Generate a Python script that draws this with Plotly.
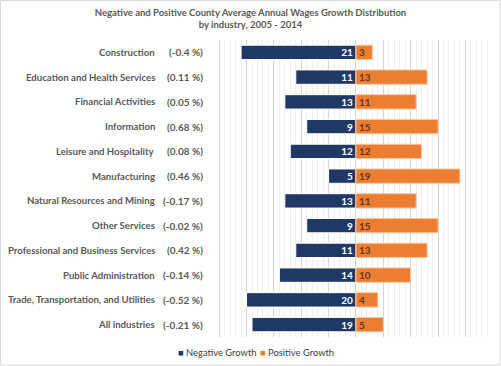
import plotly.graph_objects as go

industries = ["Construction", "Education and Health Services", "Financial Activities",
              "Information", "Leisure and Hospitality", "Manufacturing",
              "Natural Resources and Mining", "Other Services",
              "Professional and Business Services", "Public Administration",
              "Trade, Transportation, and Utilities", "All industries"]
growth_pct = ["(-0.4 %)", "(0.11 %)", "(0.05 %)", "(0.68 %)", "(0.08 %)", "(0.46 %)",
              "(-0.17 %)", "(-0.02 %)", "(0.42 %)", "(-0.14 %)", "(-0.52 %)", "(-0.21 %)"]
negative = [21, 11, 13, 9, 12, 5, 13, 9, 11, 14, 20, 19]
positive = [3, 13, 11, 15, 12, 19, 11, 15, 13, 10, 4, 5]
series_names = ["Negative Growth", "Positive Growth"]
series_colors = ["#203864", "#ED7D31"]

font_fam = "Lato, 'Open Sans', sans-serif"
gray = "#595959"

fig = go.Figure()
fig.add_trace(go.Bar(
    y=industries, x=[-v for v in negative], orientation="h", name=series_names[0],
    marker=dict(color=series_colors[0], line=dict(color="#ffffff", width=1)),
    text=[f"<b>{v}</b>" for v in negative], textposition="inside", insidetextanchor="start",
    textangle=0, constraintext="none",
    textfont=dict(color="white", size=10, family=font_fam), width=0.58,
))
fig.add_trace(go.Bar(
    y=industries, x=positive, orientation="h", name=series_names[1],
    marker=dict(color=series_colors[1], line=dict(color="#f6c9a8", width=1)),
    text=[f"<b>{v}</b>" for v in positive], textposition="inside", insidetextanchor="start",
    textangle=0, constraintext="none",
    textfont=dict(color="#5c3a1a", size=10, family=font_fam), width=0.58,
))

W, H = 501, 366
L, R, T, B = 217, 8, 40, 29
pw = W - L - R
ph = H - T - B

annotations = []
for name, pct in zip(industries, growth_pct):
    annotations.append(dict(x=(157 - L) / pw, y=name, xref="paper", yref="y", text=f"<b>{name}</b>",
                            showarrow=False, xanchor="right", font=dict(size=9.6, color=gray, family=font_fam)))
    annotations.append(dict(x=(205 - L) / pw, y=name, xref="paper", yref="y", text=f"<b>{pct}</b>",
                            showarrow=False, xanchor="right", font=dict(size=10, color=gray, family=font_fam)))

# custom compact legend (positions in pixels converted to paper coords)
legend_px = [176, 258]
for nm, col, lx in zip(series_names, series_colors, legend_px):
    annotations.append(dict(x=(lx - L) / pw, y=(H - 352 - B) / ph, xref="paper", yref="paper",
                            showarrow=False, xanchor="left", yanchor="middle",
                            text=f"<span style='color:{col}'>■</span> {nm}",
                            font=dict(size=9.4, color="#404040", family=font_fam)))

fig.update_layout(
    width=W, height=H,
    margin=dict(l=L, r=R, t=T, b=B, autoexpand=False),
    paper_bgcolor="white", plot_bgcolor="white",
    barmode="relative",
    title=dict(text="<b>Negative and Positive County Average Annual Wages Growth Distribution<br>by industry, 2005 - 2014</b>",
               x=0.5, xanchor="center", xref="container", y=1 - 16 / H, yanchor="top", yref="container",
               font=dict(size=9.5, color=gray, family=font_fam)),
    xaxis=dict(range=[-25.4, 25.05], dtick=5, tick0=0, showticklabels=False, zeroline=False,
               showgrid=True, gridcolor="#d4d4d4", gridwidth=1,
               minor=dict(dtick=1, showgrid=True, gridcolor="#efefef", gridwidth=1),
               fixedrange=True),
    yaxis=dict(showticklabels=False, showgrid=False, zeroline=False, range=[11.5, -0.5]),
    showlegend=False,
    annotations=annotations,
    shapes=[dict(type="rect", xref="paper", yref="paper", x0=-(L - 0.5) / pw, x1=1 + (R - 1) / pw,
                 y0=-(B - 1) / ph, y1=1 + (T - 0.5) / ph,
                 line=dict(color="#d9d9d9", width=1))],
)

fig.write_html("out.html", config={"displayModeBar": False},
               post_script="document.body.style.margin='0';document.body.style.overflow='hidden';")
